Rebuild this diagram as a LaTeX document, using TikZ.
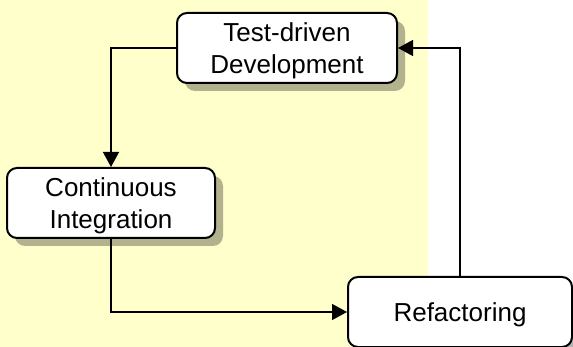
\documentclass[tikz,border=0pt]{standalone}
\usepackage{fontspec}
\setmainfont{Liberation Sans}
\usepackage{xcolor}
\usetikzlibrary{shapes,arrows.meta,positioning,calc,shadows}
\definecolor{paleyellow}{RGB}{255,255,204}

\begin{document}
\begin{tikzpicture}[
    node distance=1cm,
    stage/.style={rectangle, rounded corners=10pt, draw=black, line width=2pt, fill=white, align=center, minimum height=70pt, text depth=0pt, font=\fontsize{26}{32}\selectfont, drop shadow={shadow xshift=8pt, shadow yshift=-8pt, fill=black, opacity=0.3}},
    arrow/.style={-{Triangle[length=15pt,width=16pt]}, line width=1.3pt}
]
    % canvas and yellow panel
    \useasboundingbox (0,0) rectangle (573pt,-347pt);
    \fill[paleyellow] (0,0) rectangle (428pt,-347pt);

    \node[stage, minimum width=220pt] (tdd) at (287pt,-48pt) {Test-driven\\Development};
    \node[stage, minimum width=208pt, below=83pt of tdd, xshift=-176pt] (ci) {Continuous\\Integration};
    \node[stage, minimum width=224pt, below right=37pt and 131pt of ci] (refac) {Refactoring};

    \draw[arrow] (tdd.west) -| (ci.north);
    \draw[arrow] (ci.south) |- (refac.west);
    \draw[arrow] (refac.north) |- (tdd.east);
\end{tikzpicture}
\end{document}
